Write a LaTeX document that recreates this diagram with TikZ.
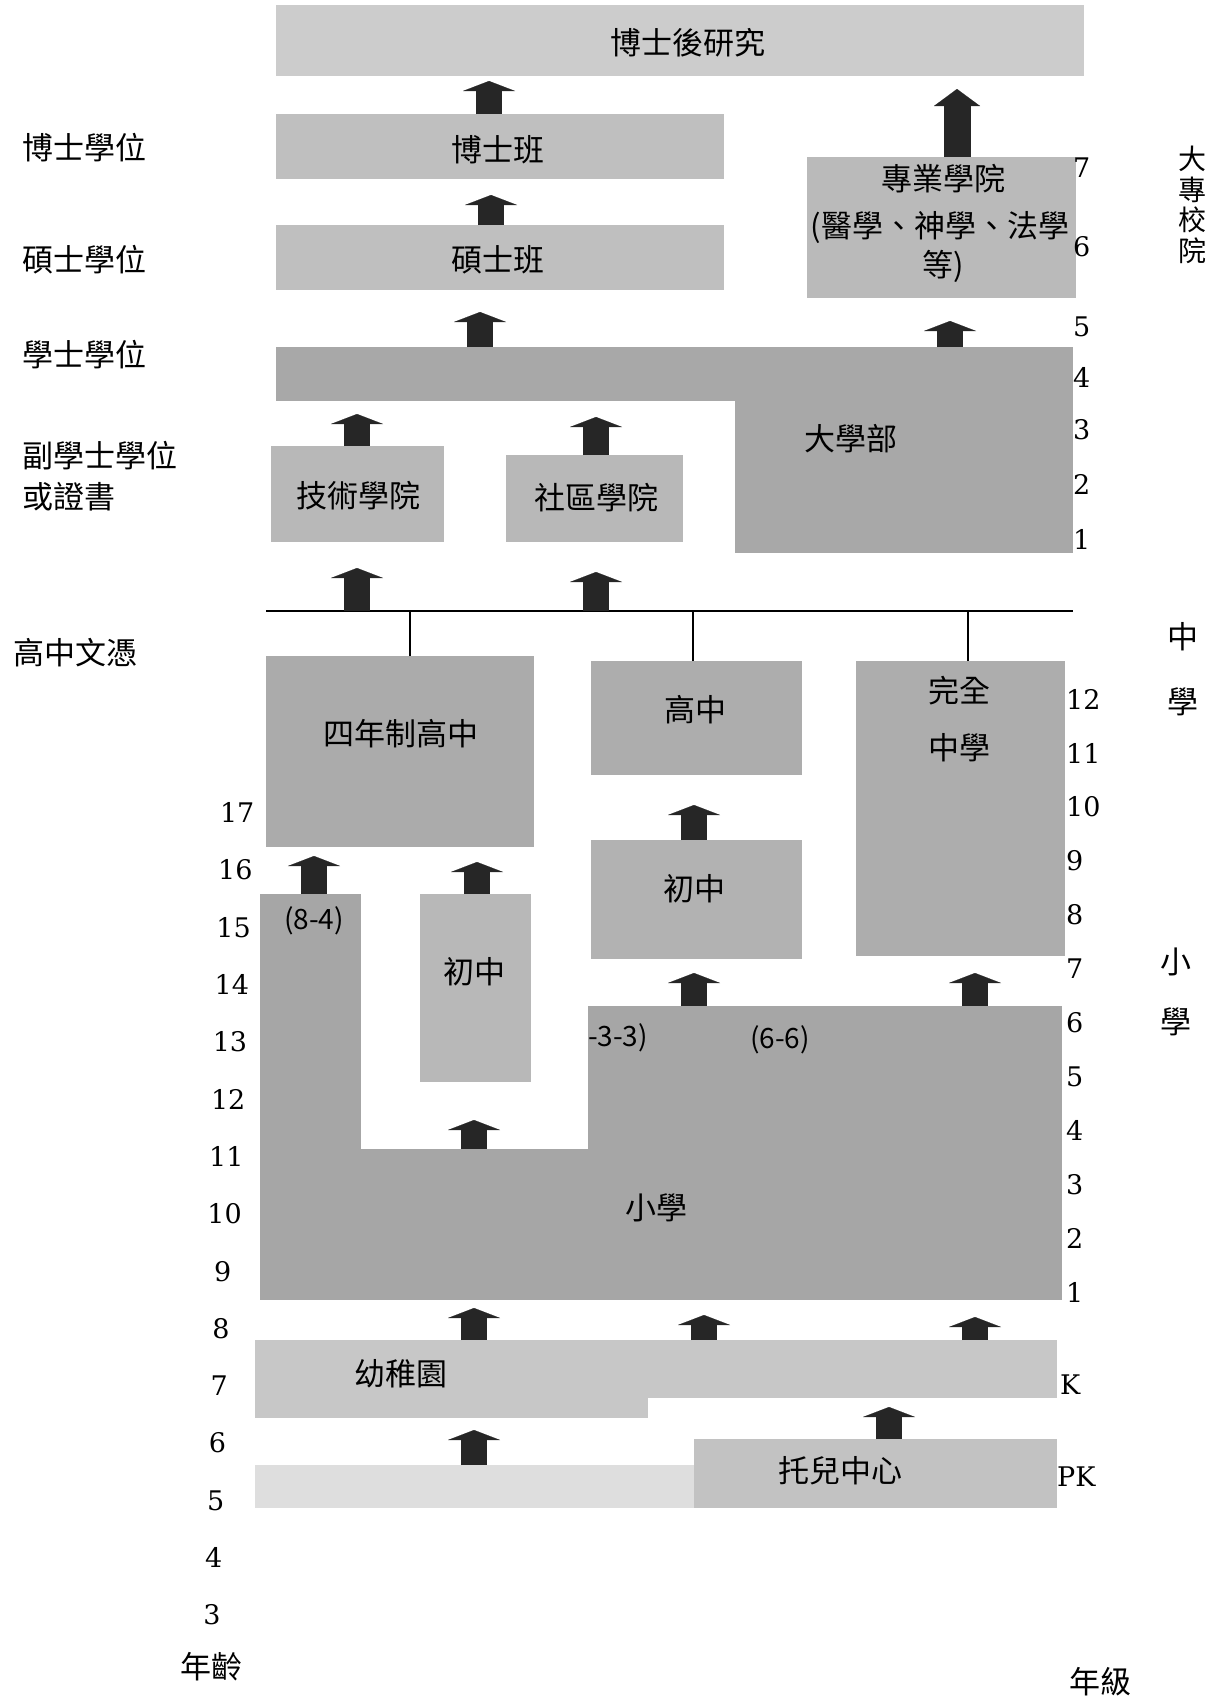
\documentclass[tikz,border=0pt]{standalone}
\usepackage{fontspec}
\setmainfont{Liberation Serif}
\newfontfamily\cjk{Noto Sans CJK TC}
\newfontfamily\numfont{DejaVu Serif}
\usetikzlibrary{arrows.meta,fit}

\tikzset{
	box/.style={inner sep=0pt, outer sep=0pt},
	uparrow/.style={line width=26pt, draw=black!85, -{Triangle[width=52pt,length=10pt,line width=0.1pt]}},
	bigarrow/.style={line width=27pt, draw=black!85, -{Triangle[width=46pt,length=17pt,line width=0.1pt]}},
	barline/.style={line width=2.5pt},
	lbl/.style={font=\cjk\fontsize{31}{36}\selectfont, inner sep=0pt},
	num/.style={font=\numfont\fontsize{27}{30}\selectfont, inner sep=0pt},
}

\begin{document}
\begin{tikzpicture}[x=1pt, y=-1pt]
		\useasboundingbox (0,0) rectangle (1217,1700);
		
		%college boxes
		\node[box, fill=black!20, fit={(276,5) (1084,76)}] (postdoc) {};
		\node[box, fill=black!25, fit={(276,114) (724,179)}] (phd) {};
		\node[box, fill=black!25, fit={(276,225) (724,290)}] (ms) {};
		\node[box, fill=black!27, fit={(807,157) (1076,298)}] (prof) {};
		\node[box, fill=black!34, fit={(276,347) (1073,401)}] (bband) {};
		\node[box, fill=black!34, fit={(735,347) (1073,553)}] (univ) {};
		\node[box, fill=black!28, fit={(271,446) (444,542)}] (tech) {};
		\node[box, fill=black!28, fit={(506,455) (683,542)}] (comm) {};
		
		%secondary boxes
		\node[box, fill=black!33, fit={(266,656) (534,847)}] (fouryr) {};
		\node[box, fill=black!32, fit={(591,661) (802,775)}] (hs) {};
		\node[box, fill=black!32, fit={(856,661) (1065,956)}] (complete) {};
		\node[box, fill=black!30, fit={(591,840) (802,959)}] (jhM) {};
		\node[box, fill=black!28, fit={(420,894) (531,1082)}] (jhL) {};
		
		%elementary, K, PK
		\node[box, fill=black!35, fit={(260,894) (361,1150)}] (col84) {};
		\node[box, fill=black!35, fit={(588,1006) (1062,1150)}] (elemR) {};
		\node[box, fill=black!35, fit={(260,1149) (1062,1300)}] (elem) {};
		\node[box, fill=black!22, fit={(255,1340) (1057,1398)}] (kband) {};
		\node[box, fill=black!22, fit={(255,1397) (648,1418)}] (kext) {};
		\node[box, fill=black!13, fit={(255,1465) (694,1508)}] (pkband) {};
		\node[box, fill=black!24, fit={(694,1439) (1057,1508)}] (pkr) {};
		
		%box texts
		\node[lbl] (postdoct) at (688,43) {博士後研究};
		\node[lbl] (phdt) at (498,150) {博士班};
		\node[lbl] (mst) at (498,260) {碩士班};
		\node[lbl] (proft1) at (943,179) {專業學院};
		\node[lbl] (proft2) at (940,228) {(醫學、神學、法學};
		\node[lbl] (proft3) at (943,266) {等)};
		\node[lbl] (univt) at (851,439) {大學部};
		\node[lbl] (techt) at (358,496) {技術學院};
		\node[lbl] (commt) at (596,498) {社區學院};
		\node[lbl] (fouryrt) at (401,734) {四年制高中};
		\node[lbl] (hst) at (695,710) {高中};
		\node[lbl] (completet1) at (959,691) {完全};
		\node[lbl] (completet2) at (959,748) {中學};
		\node[lbl] (jhMt) at (694,889) {初中};
		\node[lbl] (jhLt) at (474,972) {初中};
		\node[lbl, font=\cjk\fontsize{28}{30}\selectfont] (ef) at (314,921) {(8-4)};
		\node[lbl, font=\cjk\fontsize{28}{30}\selectfont] (ss) at (618,1038) {-3-3)};
		\node[lbl, font=\cjk\fontsize{28}{30}\selectfont] (sx) at (780,1040) {(6-6)};
		\node[lbl] (elemt) at (656,1208) {小學};
		\node[lbl] (kt) at (401,1374) {幼稚園};
		\node[lbl] (pkt) at (840,1471) {托兒中心};
		
		%high school bar
		\coordinate (barL) at (266,611);
		\coordinate (barR) at (1073,611);
		\draw[barline] (barL) -- (barR);
		\draw[barline] (fouryr.north -| 410,0) -- (barL -| 410,0);
		\draw[barline] (hs.north -| 693,0) -- (barL -| 693,0);
		\draw[barline] (complete.north -| 968,0) -- (barL -| 968,0);
		
		%arrows
		\draw[uparrow, shorten >=5pt] (phd.north -| 489,0) -- (postdoc.south -| 489,0);
		\draw[bigarrow, shorten >=13pt] (prof.north -| 957,0) -- (postdoc.south -| 957,0);
		\draw[uparrow, shorten >=16pt] (ms.north -| 491,0) -- (phd.south -| 491,0);
		\draw[uparrow, shorten >=22pt] (bband.north -| 480,0) -- (ms.south -| 480,0);
		\draw[uparrow, shorten >=23pt] (univ.north -| 950,0) -- (prof.south -| 950,0);
		\draw[uparrow, shorten >=13pt] (tech.north -| 357,0) -- (bband.south -| 357,0);
		\draw[uparrow, shorten >=16pt] (comm.north -| 596,0) -- (bband.south -| 596,0);
		\draw[uparrow, shorten >=26pt] (barL -| 357,0) -- (tech.south -| 357,0);
		\draw[uparrow, shorten >=30pt] (barL -| 596,0) -- (comm.south -| 596,0);
		\draw[uparrow, shorten >=30pt] (jhM.north -| 694,0) -- (hs.south -| 694,0);
		\draw[uparrow, shorten >=9pt] (col84.north -| 314,0) -- (fouryr.south -| 314,0);
		\draw[uparrow, shorten >=15pt] (jhL.north -| 477,0) -- (fouryr.south -| 477,0);
		\draw[uparrow, shorten >=14pt] (elemR.north -| 694,0) -- (jhM.south -| 694,0);
		\draw[uparrow, shorten >=17pt] (elemR.north -| 975,0) -- (complete.south -| 975,0);
		\draw[uparrow, shorten >=38pt] (elem.north -| 474,0) -- (jhL.south -| 474,0);
		\draw[uparrow, shorten >=8pt] (kband.north -| 474,0) -- (elem.south -| 474,0);
		\draw[uparrow, shorten >=15pt] (kband.north -| 704,0) -- (elem.south -| 704,0);
		\draw[uparrow, shorten >=17pt] (kband.north -| 975,0) -- (elem.south -| 975,0);
		\draw[uparrow, shorten >=9pt] (pkr.north -| 889,0) -- (kband.south -| 889,0);
		\draw[uparrow, shorten >=12pt] (pkband.north -| 474,0) -- (kext.south -| 474,0);
		
		%left labels
		\node[lbl, anchor=west] (phdd) at (22,148) {博士學位};
		\node[lbl, anchor=west] (msd) at (22,260) {碩士學位};
		\node[lbl, anchor=west] (bd) at (22,355) {學士學位};
		\node[lbl, anchor=west, align=left, font=\cjk\fontsize{31}{41}\selectfont] (ad) at (22,476) {副學士學位\\或證書};
		\node[lbl, anchor=west] (hsd) at (13,653) {高中文憑};
		
		%right labels
		\node[lbl, align=center, font=\cjk\fontsize{28}{30.5}\selectfont] (dazhuan) at (1192,205) {大\\專\\校\\院};
		\node[lbl] (zhong) at (1183,637) {中};
		\node[lbl] (zxue) at (1183,702) {學};
		\node[lbl] (xiao) at (1176,962) {小};
		\node[lbl] (xxue) at (1176,1022) {學};
		
		%ages
		\foreach \a in {3,...,17}{
			\node[num] (age\a) at ({212+(\a-3)*1.8}, {1615-(\a-3)*57.3}) {\a};
		}
		\node[lbl] (aget) at (211,1667) {年齡};
		
		%grades
		\foreach \g in {1,...,12}{
			\node[num, anchor=west] (gr\g) at (1066, {1292-(\g-1)*53.9}) {\g};
		}
		\node[num, anchor=west] (grk) at (1060,1385) {K};
		\node[num, anchor=west] (grpk) at (1057,1477) {PK};
		\foreach \g/\y in {1/539, 2/484, 3/430, 4/377, 5/327, 6/247, 7/168}{
			\node[num, anchor=west] (yr\g) at (1073,\y) {\g};
		}
		\node[lbl] (gradet) at (1100,1682) {年級};
\end{tikzpicture}
\end{document}
